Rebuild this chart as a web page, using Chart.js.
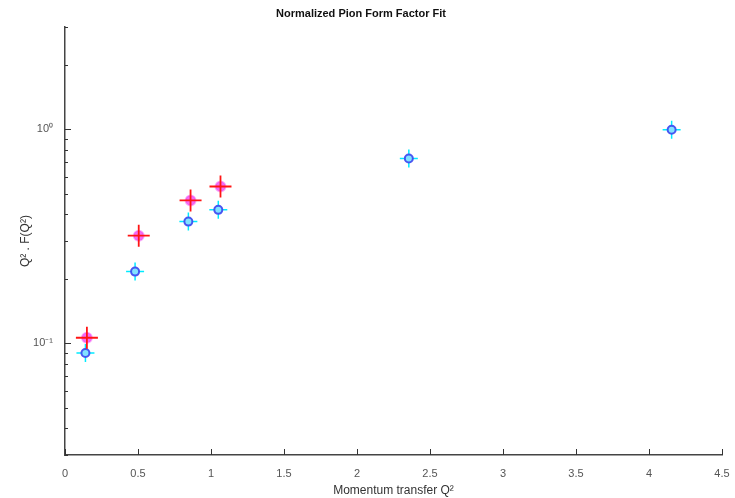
<!DOCTYPE html>
<html>
<head>
<meta charset="utf-8">
<script src="https://cdn.jsdelivr.net/npm/chart.js@4/dist/chart.umd.min.js"></script>
<style>
  html, body { margin: 0; padding: 0; background: #fff; }
  #wrap { width: 735px; height: 498px; }
</style>
</head>
<body>
<div id="wrap"><canvas id="mycanvas"></canvas></div>
<script>
// measured form factor (red) and fit (blue)
var redQ2 = [0.15, 0.505, 0.86, 1.065];
var redF = [0.106, 0.318, 0.465, 0.54];
var blueQ2 = [0.14, 0.48, 0.845, 1.05, 2.355, 4.155];
var blueF = [0.090, 0.216, 0.370, 0.420, 0.730, 0.995];

var xTicks = [0, 0.5, 1, 1.5, 2, 2.5, 3, 3.5, 4, 4.5];
var yTicks = [0.03, 0.04, 0.05, 0.06, 0.07, 0.08, 0.09,
              0.1, 0.2, 0.3, 0.4, 0.5, 0.6, 0.7, 0.8, 0.9, 1, 2, 3];
var yLabels = { "0.1": "10\u207B\u00B9", "1": "10\u2070" };

function pts(xs, ys) {
	var out = [];
	for (var i in xs) out.push({ x: xs[i], y: ys[i] });
	return out;
}

var font = "'Liberation Sans', Arial, sans-serif";

// tick marks drawn inside the axes, like the original
var innerTicks = {
	id: 'innerTicks',
	afterDraw: function(chart) {
		var c = chart.ctx, xs = chart.scales.x, ys = chart.scales.y, a = chart.chartArea;
		c.save();
		c.strokeStyle = '#333';
		c.lineWidth = 1;
		c.beginPath();
		xTicks.forEach(function(v) {
			var px = Math.round(xs.getPixelForValue(v)) + 0.5;
			c.moveTo(px, a.bottom);
			c.lineTo(px, a.bottom - 6);
		});
		yTicks.forEach(function(v) {
			var py = Math.round(ys.getPixelForValue(v)) + 0.5;
			var len = yLabels[String(v)] ? 6 : 3;
			c.moveTo(a.left, py);
			c.lineTo(a.left + len, py);
		});
		c.stroke();
		c.restore();
	}
};

var ctx = document.getElementById('mycanvas');

var chart = new Chart(ctx, {
	type: 'scatter',
	data: {
		datasets: [
			{
				label: 'measured bars',
				data: pts(redQ2, redF),
				pointStyle: 'cross',
				pointRadius: 11,
				borderColor: 'rgba(255, 20, 20, 1)',
				pointBorderWidth: 1.8,
				order: 1
			},
			{
				label: 'measured',
				data: pts(redQ2, redF),
				pointStyle: 'circle',
				pointRadius: 5,
				backgroundColor: 'rgba(240, 60, 240, 0.75)',
				borderColor: 'rgba(240, 60, 240, 0.4)',
				pointBorderWidth: 2,
				order: 2
			},
			{
				label: 'fit bars',
				data: pts(blueQ2, blueF),
				pointStyle: 'cross',
				pointRadius: 9,
				borderColor: 'rgba(0, 235, 255, 1)',
				pointBorderWidth: 1.5,
				order: 4
			},
			{
				label: 'fit',
				data: pts(blueQ2, blueF),
				pointStyle: 'circle',
				pointRadius: 4,
				backgroundColor: 'rgba(130, 225, 255, 1)',
				borderColor: 'rgba(60, 70, 240, 0.9)',
				pointBorderWidth: 2,
				order: 3
			}
		]
	},
	options: {
		responsive: true,
		maintainAspectRatio: false,
		animation: false,
		layout: { padding: { left: 0, right: 13, top: 0, bottom: 0 } },
		plugins: {
			legend: { display: false },
			tooltip: { enabled: false },
			title: {
				display: true,
				text: 'Normalized Pion Form Factor Fit',
				color: '#111',
				font: { family: font, size: 11, weight: 'bold' },
				padding: { top: 7, bottom: 7 }
			}
		},
		scales: {
			x: {
				type: 'linear',
				min: 0,
				max: 4.5,
				afterBuildTicks: function(s) {
					s.ticks = xTicks.map(function(v) { return { value: v }; });
				},
				afterFit: function(s) { s.height = 43; },
				grid: { display: false },
				border: { color: '#444', width: 1.5 },
				ticks: {
					color: '#555',
					font: { family: font, size: 11 },
					padding: 4,
					autoSkip: false,
					maxRotation: 0,
					callback: function(v) { return String(v); }
				},
				title: {
					display: true,
					text: 'Momentum transfer Q\u00B2',
					color: '#333',
					font: { family: font, size: 12 },
					padding: { top: 2, bottom: 0 }
				}
			},
			y: {
				type: 'logarithmic',
				min: 0.03,
				max: 3,
				afterBuildTicks: function(s) {
					s.ticks = yTicks.map(function(v) { return { value: v }; });
				},
				afterFit: function(s) { s.width = 65; },
				grid: { display: false },
				border: { color: '#444', width: 1.5 },
				ticks: {
					color: '#555',
					font: { family: font, size: 11 },
					autoSkip: false,
					padding: 4,
					callback: function(v) {
						return yLabels[String(v)] || '';
					}
				},
				title: {
					display: true,
					text: 'Q\u00B2 . F(Q\u00B2)',
					color: '#333',
					font: { family: font, size: 12 },
					padding: { top: 18, bottom: 4 }
				}
			}
		}
	},
	plugins: [innerTicks]
});
</script>
</body>
</html>
